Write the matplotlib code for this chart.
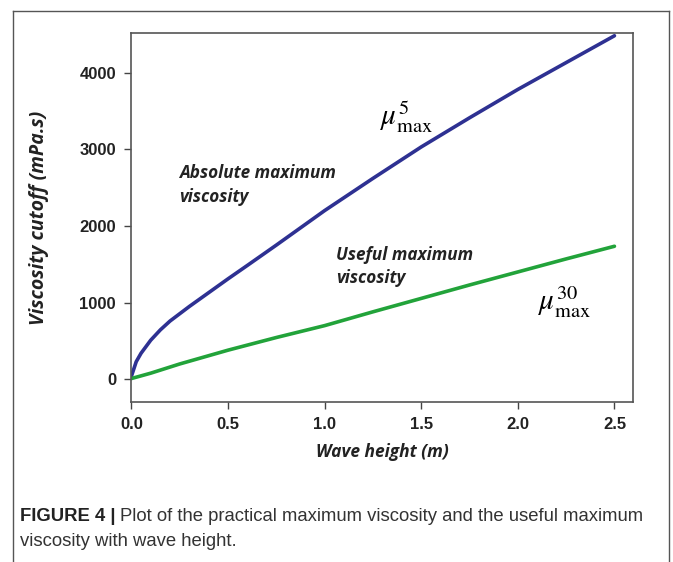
import matplotlib
matplotlib.use("Agg")
import matplotlib.pyplot as plt
from matplotlib.lines import Line2D

plt.rcParams['mathtext.fontset'] = 'stix'

# Data
wave_height_abs = [0.0, 0.025, 0.05, 0.1, 0.15, 0.2, 0.3, 0.4, 0.5, 0.6, 0.75, 1.0,
                   1.25, 1.5, 1.75, 2.0, 2.25, 2.5]
abs_max_visc = [40, 230, 340, 510, 645, 760, 950, 1130, 1310, 1485, 1750, 2200,
                2620, 3030, 3410, 3780, 4130, 4480]
wave_height_useful = [0.0, 0.05, 0.1, 0.25, 0.5, 0.75, 1.0, 1.25, 1.5, 1.75, 2.0, 2.25, 2.5]
useful_max_visc = [10, 45, 80, 200, 380, 545, 700, 880, 1055, 1230, 1400, 1570, 1735]
xticks = [0.0, 0.5, 1.0, 1.5, 2.0, 2.5]
yticks = [0, 1000, 2000, 3000, 4000]

fig = plt.figure(figsize=(6.73, 5.62), dpi=100)
W, H = 673, 562

# outer frame
fc = '#555555'
fig.add_artist(Line2D([12.5/W, 12.5/W], [0, 1 - 11/H], transform=fig.transFigure, color=fc, lw=1.0))
fig.add_artist(Line2D([668.5/W, 668.5/W], [0, 1 - 11/H], transform=fig.transFigure, color=fc, lw=1.0))
fig.add_artist(Line2D([12.5/W, 668.5/W], [1 - 11/H, 1 - 11/H], transform=fig.transFigure, color=fc, lw=1.0))

ax = fig.add_axes([131.4/W, 1 - 401.7/H, (633 - 131.4)/W, (401.7 - 33.3)/H])
ax.plot(wave_height_abs, abs_max_visc, color='#2E3192', lw=2.6, solid_capstyle='round')
ax.plot(wave_height_useful, useful_max_visc, color='#22A33A', lw=2.6, solid_capstyle='round')

ax.set_xlim(0, 2.596)
ax.set_ylim(-292, 4512)
ax.set_xticks(xticks)
ax.set_xticklabels([f"{v:.1f}" for v in xticks], fontweight='bold', fontsize=12,
                   family='Liberation Sans', color='#222222')
ax.set_yticks(yticks)
ax.set_yticklabels([str(v) for v in yticks], fontweight='bold', fontsize=12,
                   family='Liberation Sans', color='#222222')
ax.tick_params(direction='out', length=5, width=1.0, color='#444444', pad=6)
for s in ax.spines.values():
    s.set_color('#555555')
    s.set_linewidth(1.2)

lab = dict(fontweight='bold', fontstyle='italic', family='Open Sans', color='#222222')
ax.set_xlabel('Wave height (m)', fontsize=12.5, labelpad=8, **lab)
ax.set_ylabel('Viscosity cutoff (mPa.s)', fontsize=14, labelpad=22, **lab)

ann = dict(fontsize=12.3, va='center', ha='left', **lab)
ax.text(0.246, 2690, 'Absolute maximum', **ann)
ax.text(0.246, 2380, 'viscosity', **ann)
ax.text(1.058, 1620, 'Useful maximum', **ann)
ax.text(1.058, 1320, 'viscosity', **ann)

ax.text(1.285, 3320, r'$\mu_{\mathrm{max}}^{5}$', fontsize=21, color='black', va='baseline', ha='left')
ax.text(2.105, 900, r'$\mu_{\mathrm{max}}^{30}$', fontsize=21, color='black', va='baseline', ha='left')

# caption
cap1 = fig.text(20/W, 1 - 521/H, 'FIGURE 4 |', fontsize=13.3, fontweight='bold',
                family='Liberation Sans', color='#222222', va='baseline', ha='left')
fig.canvas.draw()
bb = cap1.get_window_extent(renderer=fig.canvas.get_renderer())
fig.text((bb.x1 + 4)/W, 1 - 521/H, 'Plot of the practical maximum viscosity and the useful maximum',
         fontsize=13.3, family='Liberation Sans', color='#333333', va='baseline', ha='left')
fig.text(20/W, 1 - 546/H, 'viscosity with wave height.',
         fontsize=13.3, family='Liberation Sans', color='#333333', va='baseline', ha='left')

fig.savefig('out.png', dpi=100)
